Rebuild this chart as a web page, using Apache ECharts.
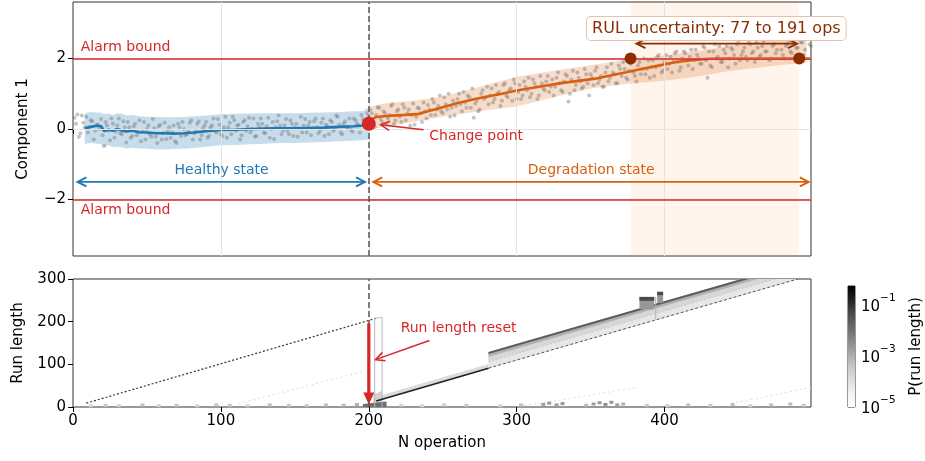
<!DOCTYPE html>
<html><head><meta charset="utf-8">
<script src="https://cdn.jsdelivr.net/npm/echarts@6/dist/echarts.min.js"></script>
<style>html,body{margin:0;padding:0;background:#fff}#c{width:925px;height:461px}</style>
</head><body><div id="c"></div>
<script>
// ---------- axes / ticks ----------
const xRange = [0, 499];
const xTicks = [0, 100, 200, 300, 400];
const compRange = [-3.6, 3.6];
const compTicks = [-2, 0, 2];
const rlRange = [0, 300];
const rlTicks = [0, 100, 200, 300];
const cbRange = [-5.05, -0.32];          // log10 P(run length)
const cbTicks = [-5, -3, -1];

// ---------- key values ----------
const alarmBounds = [2, -2];
const changePoint = [200, 0.15];
const rulPoints = [[377, 2], [491, 2]];

// ---------- observations (component 1) ----------
const obsStep = 2;
const healthyObsStart = 1;
const healthyObs = [0.32,0.41,-0.12,0.18,0.35,0.05,0.22,-0.05,0.12,0.28,
 -0.48,0.1,-0.32,0.15,-0.08,0.3,-0.15,0.05,0.2,-0.25,
 0.08,-0.18,0.25,-0.05,-0.3,0.1,-0.22,0.02,-0.4,0.12,
 -0.12,-0.28,0.05,-0.1,-0.35,0.15,-0.2,0.0,-0.15,0.18,
 -0.3,-0.05,0.22,-0.18,0.1,-0.25,0.05,0.3,-0.1,0.12,
 -0.2,0.35,0.05,-0.15,0.25,0.1,-0.3,0.2,-0.05,0.32,
 0.0,-0.22,0.15,0.3,-0.1,0.08,-0.25,0.2,0.05,0.38,
 -0.15,0.1,-0.05,0.25,-0.2,0.15,0.02,-0.1,0.28,0.1,
 -0.18,0.22,0.05,-0.05,0.3,0.12,-0.15,0.2,0.0,0.35,
 -0.1,0.15,0.05,0.3,-0.08,0.25,0.1,0.4,0.18,0.45];
const healthyObs2Start = 2;
const healthyObs2 = [0.15,-0.22,0.38,0.05,-0.1,0.25,-0.3,0.12,0.0,-0.18,
 0.2,-0.05,0.3,-0.25,0.1,-0.12,0.22,-0.38,0.05,-0.2,
 0.15,-0.1,-0.35,0.2,0.0,-0.15,0.28,-0.22,0.08,-0.3,
 0.18,-0.05,-0.25,0.1,-0.4,0.05,0.2,-0.18,-0.08,0.25,
 -0.12,0.15,-0.3,0.02,0.2,-0.2,0.1,-0.05,0.28,-0.15,
 0.05,-0.25,0.18,0.35,-0.05,0.12,-0.18,0.25,0.08,-0.1,
 0.3,-0.2,0.05,0.15,-0.12,0.32,0.0,-0.28,0.22,0.1,
 -0.05,0.28,-0.15,0.15,0.05,-0.22,0.35,0.1,-0.1,0.2,
 0.02,0.3,-0.12,0.18,-0.2,0.08,0.25,-0.05,0.38,0.12,
 -0.15,0.22,0.05,-0.02,0.3,0.15,-0.1,0.28,0.2,0.36];
const degradObsStart = 201;
const degradObs = [0.55,0.1,0.4,0.6,0.2,0.45,0.3,0.65,0.15,0.5,
 0.35,0.7,0.25,0.55,0.4,0.12,0.6,0.45,0.75,0.3,
 0.55,0.85,0.4,0.65,0.5,0.9,0.55,0.35,0.8,0.65,
 1.0,0.5,0.75,0.95,0.6,0.32,0.8,0.55,1.1,0.9,
 0.7,1.15,0.85,1.0,0.65,1.25,0.95,1.1,0.8,1.3,
 1.05,0.85,1.35,1.1,0.9,1.4,1.2,0.95,1.3,1.1,
 1.5,1.2,0.95,1.45,1.3,1.05,1.55,0.78,1.4,1.1,
 1.6,1.35,1.2,1.55,0.95,1.45,1.65,1.3,1.5,1.2,
 1.75,1.45,1.6,1.3,1.8,1.5,1.7,1.4,1.85,1.6,
 1.35,1.9,1.7,1.55,1.95,1.75,1.5,2.05,1.8,1.65,
 2.1,1.85,1.6,2.15,1.9,1.75,2.2,1.95,2.05,1.7,
 2.25,2.0,1.85,2.3,1.45,1.8,2.2,2.0,2.35,1.9,
 2.15,1.75,2.3,2.1,2.4,1.95,2.2,2.05,2.45,2.15,
 1.9,2.3,2.1,2.5,2.2,1.95,2.35,2.15,2.55,2.25,
 2.0,2.4,2.2,2.6,2.3,2.05,2.45,2.25,2.55,2.35];
const degradObs2Start = 202;
const degradObs2 = [0.45,0.05,0.62,0.28,0.5,0.15,0.4,0.7,0.25,0.55,
 0.2,0.6,0.45,0.1,0.72,0.35,0.58,0.2,0.5,0.68,
 0.4,0.75,0.55,0.95,0.45,0.7,1.0,0.6,0.38,0.85,
 0.7,1.05,0.6,0.9,1.15,0.72,0.5,1.0,0.85,1.2,
 0.95,0.75,1.25,1.05,0.8,1.3,0.9,1.15,1.4,0.85,
 1.25,0.95,1.2,1.45,1.0,1.3,0.85,1.5,1.15,1.35,
 1.05,1.4,1.2,1.6,1.1,1.35,1.5,1.0,1.65,1.25,
 1.45,1.15,1.7,1.3,1.55,1.25,1.75,1.4,1.2,1.6,
 1.35,1.85,1.55,1.3,1.7,1.9,1.45,1.65,1.95,1.5,
 1.8,1.55,2.0,1.7,1.45,1.95,1.75,2.1,1.6,1.9,
 1.7,2.05,1.9,2.2,1.65,2.0,2.15,1.8,2.25,1.95,
 2.1,1.85,2.35,1.95,2.2,1.75,2.4,2.05,1.9,2.25,
 2.35,2.0,2.25,1.85,2.5,2.1,2.3,1.95,2.4,2.2,
 2.45,2.05,2.35,2.2,2.55,2.0,2.4,2.25,2.6,2.1,
 2.35,2.5,2.15,2.65,2.3,2.45,2.1,2.55,2.4];

// ---------- healthy-state model ----------
const healthyX = [8,12,16,19,21,24,27,30,33,36,40,45,50,56,62,68,75,82,90,100,110,120,130,140,150,160,170,180,190,196,200];
const healthyMean = [0.02,0.06,0.09,0.08,-0.06,-0.02,-0.05,0.0,-0.04,-0.07,-0.05,-0.09,-0.1,-0.12,-0.12,-0.13,-0.12,-0.1,-0.06,-0.03,-0.02,0.0,0.01,0.02,0.02,0.03,0.04,0.06,0.08,0.1,0.14];
const healthyUpper = [0.45,0.48,0.47,0.46,0.42,0.44,0.4,0.45,0.43,0.38,0.4,0.36,0.35,0.34,0.33,0.33,0.34,0.36,0.38,0.42,0.43,0.44,0.45,0.45,0.45,0.46,0.47,0.48,0.5,0.5,0.62];
const healthyLower = [-0.42,-0.4,-0.42,-0.43,-0.5,-0.46,-0.52,-0.5,-0.52,-0.55,-0.53,-0.55,-0.56,-0.58,-0.58,-0.57,-0.56,-0.54,-0.5,-0.46,-0.45,-0.43,-0.42,-0.4,-0.4,-0.38,-0.37,-0.35,-0.33,-0.32,-0.3];

// ---------- degradation-state model ----------
const degradX = [200,202,203,205,210,216,225,234,240,250,260,275,290,300,315,330,352,374,390,408,420,430,440,499];
const degradMean = [0.15,0.24,0.3,0.34,0.36,0.38,0.4,0.43,0.5,0.62,0.74,0.88,1.0,1.09,1.2,1.3,1.42,1.61,1.75,1.9,1.96,1.99,2.0,2.0];
const degradBandX = [200,205,215,230,250,275,300,325,350,375,400,425,440,460,480,496];
const degradUpper = [0.6,0.68,0.75,0.8,0.92,1.2,1.48,1.65,1.81,1.97,2.08,2.22,2.33,2.45,2.58,2.68];
const degradLower = [0.0,0.02,0.1,0.2,0.35,0.5,0.64,0.9,1.15,1.28,1.37,1.5,1.62,1.72,1.82,1.88];

// ---------- annotations (data coordinates) ----------
const healthyArrow = [[3, -1.5], [197.5, -1.5]];
const degradArrow = [[203, -1.5], [497.5, -1.5]];
const rulArrow = [[381, 2.42], [489.5, 2.42]];
const changeArrow = [[237, -0.02], [208, 0.12]];
const topTexts = ['Alarm bound', 'Alarm bound', 'Healthy state', 'Degradation state', 'Change point', 'RUL uncertainty: 77 to 191 ops'];
const topTextX = [5.2, 5.2, 100.5, 350.4, 240.9, 435];
const topTextY = [2.32, -2.3, -1.17, -1.17, -0.21, 2.85];
const resetArrow = [[200, 196], [200, 6]];
const resetNoteArrow = [[241, 156], [204.5, 111]];
const resetText = ['Run length reset'];
const resetTextPos = [[260.7, 183.5]];

// ---------- run-length posterior (shapes in x / run length, with P level) ----------
const bandFaint = [[281,91],[281,129],[452,300],[490,300]];
const bandLight = [[281,106],[281,129],[452,300],[475,300]];
const bandMid = [[281,118],[281,129],[452,300],[463,300]];
const bandRidge = [[281,124],[281,129],[452,300],[457,300]];
const preJumpHalo = [[206,15],[206,25],[281,101],[281,91]];
const resetSmear = [[203,0],[203,28],[209,38],[209,0]];
const resetSpot = [[196,0],[196,7],[212,13],[212,0]];
const block1Halo = [[383,229],[383,258],[393,258],[393,229]];
const block1Core = [[383,249],[383,258],[393,258],[393,249]];
const block2Halo = [[395,244],[395,270],[399,270],[399,244]];
const block2Core = [[395,262],[395,270],[399,270],[399,262]];
const rlPolys = [bandFaint, bandLight, bandMid, bandRidge, preJumpHalo, resetSmear, resetSpot, block1Halo, block1Core, block2Halo, block2Core];
const rlPolyP = [6e-5, 1.5e-4, 8e-4, 2e-2, 1.2e-4, 2e-4, 1e-2, 2e-3, 4e-2, 2e-3, 4e-2];

const preResetDiag = [[9,9],[205,208]];
const resetBox = [[204,0],[204,208],[209,210],[209,0]];
const mainRunEarly = [[205,14],[281,91]];
const mainRunLate = [[281,91],[490,300]];
const midTrail = [[281,106],[475,300]];
const healthyTrail = [[112,8],[195,82]];
const lateTrail1 = [[305,3],[380,45]];
const lateTrail2 = [[445,8],[499,46]];
const blockGapLine = [[394,205],[394,258]];
const rlLines = [preResetDiag, resetBox, mainRunEarly, mainRunLate, midTrail, healthyTrail, lateTrail1, lateTrail2, blockGapLine];
const rlLineP = [8e-2, 6e-4, 1.5e-1, 3e-2, 3e-4, 1.2e-4, 1.2e-4, 1.2e-4, 8e-4];

const speckX = [12,22,31,47,58,70,84,97,106,118,133,146,158,171,183,192,222,236,251,266,289,303,318,322,327,331,347,352,356,360,364,368,372,388,402,416,431,446,458,472,485,494];
const speckRl = [3,4,3,5,3,4,3,5,4,3,5,4,3,5,4,6,4,3,5,4,3,5,6,9,5,8,4,7,10,6,11,5,7,4,3,5,4,6,3,5,7,4];
const speckP = [1.5e-4,3e-4,2e-4,4e-4,2e-4,4e-4,2e-4,4e-4,3e-4,2e-4,4e-4,3e-4,4e-4,4e-4,6e-4,8e-4,2e-4,1.5e-4,2e-4,3e-4,2e-4,4e-4,1.5e-3,2e-3,1.5e-3,2e-3,6e-4,1.5e-3,2e-3,3e-3,2e-3,1.5e-3,8e-4,3e-4,2e-4,4e-4,3e-4,5e-4,2e-4,4e-4,5e-4,3e-4];

// ---------- styling ----------
const FONT = '"DejaVu Sans"';
const RED = '#d62728', BLUE = '#1f77b4', ORANGE = '#d95f0e', BROWN = '#8c2d04';
const greys = [[0,[255,255,255]],[0.125,[240,240,240]],[0.25,[217,217,217]],[0.375,[189,189,189]],[0.5,[150,150,150]],[0.625,[115,115,115]],[0.75,[82,82,82]],[0.875,[37,37,37]],[1,[0,0,0]]];
function greyFor(p){
  let t = (Math.log10(p) - cbRange[0]) / (cbRange[1] - cbRange[0]);
  t = Math.max(0, Math.min(1, t));
  for (let i = 1; i < greys.length; i++) {
    if (t <= greys[i][0]) {
      const [t0, c0] = greys[i-1], [t1, c1] = greys[i];
      const f = (t - t0) / (t1 - t0);
      return 'rgb(' + c0.map((v,k)=>Math.round(v + (c1[k]-v)*f)).join(',') + ')';
    }
  }
  return 'rgb(0,0,0)';
}
function arrowEls(a, b, color, width, headStart, headEnd, filled, hl, hw){
  const dx=b[0]-a[0], dy=b[1]-a[1], len=Math.hypot(dx,dy), ux=dx/len, uy=dy/len, nx=-uy, ny=ux;
  const els=[];
  let la=a, lb=b;
  if (filled && headEnd) lb=[b[0]-ux*hl*0.8, b[1]-uy*hl*0.8];
  if (filled && headStart) la=[a[0]+ux*hl*0.8, a[1]+uy*hl*0.8];
  els.push({type:'line', shape:{x1:la[0],y1:la[1],x2:lb[0],y2:lb[1]}, style:{stroke:color, lineWidth:width}});
  const head=(tip,vx,vy)=>{
    const bx=tip[0]-vx*hl, by=tip[1]-vy*hl;
    const pts=[[bx+nx*hw,by+ny*hw],tip,[bx-nx*hw,by-ny*hw]];
    return filled ? {type:'polygon', shape:{points:pts}, style:{fill:color}}
                  : {type:'polyline', shape:{points:pts}, style:{stroke:color, lineWidth:width, fill:null, lineJoin:'miter'}};
  };
  if (headEnd) els.push(head(b,ux,uy));
  if (headStart) els.push(head(a,-ux,-uy));
  return els;
}
function bandPolygon(xs, up, lo, fill){
  return (params, api) => {
    const pts = xs.map((x,i)=>api.coord([x, up[i]])).concat(xs.map((x,i)=>api.coord([x, lo[i]])).reverse());
    return {type:'polygon', shape:{points:pts}, style:{fill}};
  };
}
const topTextStyle = [
  {fill:RED, align:'left'}, {fill:RED, align:'left'}, {fill:BLUE}, {fill:ORANGE}, {fill:RED, align:'left'},
  {fill:BROWN, font:'16px '+FONT, backgroundColor:'#ffffff', borderColor:'#e8c2a6', borderWidth:1, borderRadius:4, padding:[4,5,3,5]}
];
const axisText = {color:'#000', fontSize:15, fontFamily:FONT};
const tick = {length:5, lineStyle:{color:'#000', width:1}};

const series = [];
// RUL shading
series.push({type:'custom', xAxisIndex:0, yAxisIndex:0, z:1, silent:true, data:[[0,0]],
  renderItem:(p,api)=>{const a=api.coord([rulPoints[0][0], compRange[1]]), b=api.coord([rulPoints[1][0], compRange[0]]);
    return {type:'rect', shape:{x:a[0], y:a[1], width:b[0]-a[0], height:b[1]-a[1]}, style:{fill:'rgba(253,141,60,0.09)'}};}});
// gridlines
series.push({type:'line', xAxisIndex:0, yAxisIndex:0, z:1, data:[], silent:true,
  markLine:{symbol:'none', silent:true, label:{show:false}, lineStyle:{color:'#e3e3e3', width:1, type:'solid'},
    data: xTicks.slice(1).map(v=>({xAxis:v})).concat(compTicks.map(v=>({yAxis:v})))}});
// bands
series.push({type:'custom', xAxisIndex:0, yAxisIndex:0, z:2, silent:true, data:[[0,0]], renderItem: bandPolygon(healthyX, healthyUpper, healthyLower, 'rgba(31,119,180,0.25)')});
series.push({type:'custom', xAxisIndex:0, yAxisIndex:0, z:2, silent:true, data:[[0,0]], renderItem: bandPolygon(degradBandX, degradUpper, degradLower, 'rgba(217,95,14,0.22)')});
// observations
const obsPts = [].concat(
  healthyObs.map((v,i)=>[healthyObsStart+i*obsStep, v]),
  healthyObs2.map((v,i)=>[healthyObs2Start+i*obsStep, v]),
  degradObs.map((v,i)=>[degradObsStart+i*obsStep, v]),
  degradObs2.map((v,i)=>[degradObs2Start+i*obsStep, v]));
series.push({type:'scatter', xAxisIndex:0, yAxisIndex:0, z:3, silent:true, symbolSize:4,
  itemStyle:{color:'rgba(115,115,115,0.42)', opacity:1}, data: obsPts});
// mean lines
series.push({type:'line', xAxisIndex:0, yAxisIndex:0, z:4, silent:true, symbol:'none', lineStyle:{color:BLUE, width:2.6}, data: healthyX.map((x,i)=>[x, healthyMean[i]])});
series.push({type:'line', xAxisIndex:0, yAxisIndex:0, z:4, silent:true, symbol:'none', lineStyle:{color:ORANGE, width:2.6}, data: degradX.map((x,i)=>[x, degradMean[i]])});
// alarm bounds + change line
series.push({type:'line', xAxisIndex:0, yAxisIndex:0, z:5, data:[], silent:true,
  markLine:{symbol:'none', silent:true, label:{show:false},
    data: alarmBounds.map(v=>({yAxis:v, lineStyle:{color:RED, width:1.6, type:'solid'}}))
      .concat([{xAxis:changePoint[0], lineStyle:{color:'#555', width:1.5, type:[6,3]}}])}});
// points
series.push({type:'scatter', xAxisIndex:0, yAxisIndex:0, z:6, silent:true, symbolSize:14, itemStyle:{color:RED, opacity:1}, data:[changePoint]});
series.push({type:'scatter', xAxisIndex:0, yAxisIndex:0, z:6, silent:true, symbolSize:12, itemStyle:{color:BROWN, opacity:1}, data:rulPoints});
// top notes
series.push({type:'custom', xAxisIndex:0, yAxisIndex:0, z:7, silent:true, clip:false, data:[[0,0]],
  renderItem:(params, api)=>{
    const c=p=>api.coord(p); const kids=[];
    kids.push(...arrowEls(c(healthyArrow[0]),c(healthyArrow[1]),BLUE,1.8,true,true,false,9,4.5));
    kids.push(...arrowEls(c(degradArrow[0]),c(degradArrow[1]),ORANGE,1.8,true,true,false,9,4.5));
    kids.push(...arrowEls(c(rulArrow[0]),c(rulArrow[1]),BROWN,1.8,true,true,false,9,4.5));
    kids.push(...arrowEls(c(changeArrow[0]),c(changeArrow[1]),RED,1.5,false,true,false,9,4.5));
    topTexts.forEach((t,i)=>{const p=c([topTextX[i],topTextY[i]]);
      kids.push({type:'text', x:p[0], y:p[1], style:Object.assign({text:t, font:'14px '+FONT, align:'center', verticalAlign:'middle'}, topTextStyle[i])});});
    return {type:'group', children:kids};
  }});

// ---------- bottom panel ----------
series.push({type:'custom', xAxisIndex:1, yAxisIndex:1, z:2, silent:true, clip:true, data: rlPolys.map((_,i)=>[i,0]),
  renderItem:(params, api)=>({type:'polygon', shape:{points: rlPolys[params.dataIndex].map(p=>api.coord(p))}, style:{fill: greyFor(rlPolyP[params.dataIndex])}})});
const rlLineStyle = [
  {width:1.2, type:[2,2]}, {width:1, type:'solid'}, {width:1.6, type:'solid'}, {width:1, type:[3,2]},
  {width:1, type:[2,2]}, {width:1, type:[2,3]}, {width:1, type:[2,3]}, {width:1, type:[2,3]}, {width:1, type:'solid'}];
rlLines.forEach((pts,i)=>series.push({type:'line', xAxisIndex:1, yAxisIndex:1, z:3, silent:true, symbol:'none', data:pts,
  lineStyle:Object.assign({color: greyFor(rlLineP[i])}, rlLineStyle[i])}));
series.push({type:'scatter', xAxisIndex:1, yAxisIndex:1, z:3, silent:true, symbol:'rect', symbolSize:[4,3],
  data: speckX.map((x,i)=>({value:[x, speckRl[i]], itemStyle:{color: greyFor(speckP[i]), opacity:1}}))});
series.push({type:'line', xAxisIndex:1, yAxisIndex:1, z:4, data:[], silent:true,
  markLine:{symbol:'none', silent:true, label:{show:false}, data:[{xAxis:changePoint[0], lineStyle:{color:'#555', width:1.5, type:[6,3]}}]}});
series.push({type:'custom', xAxisIndex:1, yAxisIndex:1, z:7, silent:true, clip:false, data:[[0,0]],
  renderItem:(params, api)=>{
    const c=p=>api.coord(p); const kids=[];
    kids.push(...arrowEls(c(resetArrow[0]),c(resetArrow[1]),RED,3.2,false,true,true,12,5.5));
    kids.push(...arrowEls(c(resetNoteArrow[0]),c(resetNoteArrow[1]),RED,1.5,false,true,false,9,4.5));
    const p=c(resetTextPos[0]);
    kids.push({type:'text', x:p[0], y:p[1], style:{text:resetText[0], font:'14px '+FONT, fill:RED, align:'center', verticalAlign:'middle'}});
    return {type:'group', children:kids};
  }});
// colorbar
series.push({type:'custom', xAxisIndex:2, yAxisIndex:2, z:2, silent:true, data:[[0,0]],
  renderItem:(params, api)=>{const a=api.coord([0, cbRange[1]]), b=api.coord([1, cbRange[0]]);
    return {type:'rect', shape:{x:a[0], y:a[1], width:b[0]-a[0], height:b[1]-a[1]},
      style:{fill:new echarts.graphic.LinearGradient(0,0,0,1, greys.slice().reverse().map(([t,c])=>({offset:1-t, color:'rgb('+c.join(',')+')'})))}};}});

const fmtMinus = v => v < 0 ? '\u2212' + Math.abs(v) : String(v);
const option = {
  animation:false,
  backgroundColor:'#fff',
  textStyle:{fontFamily:FONT},
  grid:[
    {left:73, width:738, top:2, height:254, show:true, borderColor:'#333', borderWidth:1, backgroundColor:'transparent'},
    {left:73, width:738, top:279, height:128, show:true, borderColor:'#333', borderWidth:1, backgroundColor:'transparent'},
    {left:848, width:9, top:286, height:121, show:true, borderColor:'#333', borderWidth:1, backgroundColor:'transparent'}
  ],
  xAxis:[
    {gridIndex:0, type:'value', min:xRange[0], max:xRange[1], axisLine:{show:false}, splitLine:{show:false},
      axisTick:Object.assign({customValues:xTicks}, tick), axisLabel:{show:false, customValues:xTicks}},
    {gridIndex:1, type:'value', min:xRange[0], max:xRange[1], axisLine:{show:false}, splitLine:{show:false},
      axisTick:Object.assign({customValues:xTicks}, tick), axisLabel:Object.assign({customValues:xTicks, margin:7}, axisText),
      name:'N operation', nameLocation:'middle', nameGap:29, nameTextStyle:axisText},
    {gridIndex:2, type:'value', min:0, max:1, show:false}
  ],
  yAxis:[
    {gridIndex:0, type:'value', min:compRange[0], max:compRange[1], axisLine:{show:false}, splitLine:{show:false},
      axisTick:Object.assign({customValues:compTicks}, tick), axisLabel:Object.assign({customValues:compTicks, margin:7, formatter:fmtMinus}, axisText),
      name:'Component 1', nameLocation:'middle', nameGap:42, nameTextStyle:axisText},
    {gridIndex:1, type:'value', min:rlRange[0], max:rlRange[1], axisLine:{show:false}, splitLine:{show:false},
      axisTick:Object.assign({customValues:rlTicks}, tick), axisLabel:Object.assign({customValues:rlTicks, margin:7}, axisText),
      name:'Run length', nameLocation:'middle', nameGap:47, nameTextStyle:axisText},
    {gridIndex:2, type:'value', position:'right', min:cbRange[0], max:cbRange[1], axisLine:{show:false}, splitLine:{show:false},
      axisTick:Object.assign({customValues:cbTicks}, tick),
      axisLabel:{customValues:cbTicks, margin:6, formatter:v=>'{b|10}{s|\u2212'+Math.abs(v)+'}',
        rich:{b:{fontSize:15, fontFamily:FONT, color:'#000', lineHeight:22, verticalAlign:'bottom'}, s:{fontSize:10.5, fontFamily:FONT, color:'#000', verticalAlign:'top'}}},
      name:'P(run length)', nameLocation:'middle', nameGap:54, nameRotate:90, nameTextStyle:axisText}
  ],
  series
};
const chart = echarts.init(document.getElementById('c'));
chart.setOption(option);
</script></body></html>
